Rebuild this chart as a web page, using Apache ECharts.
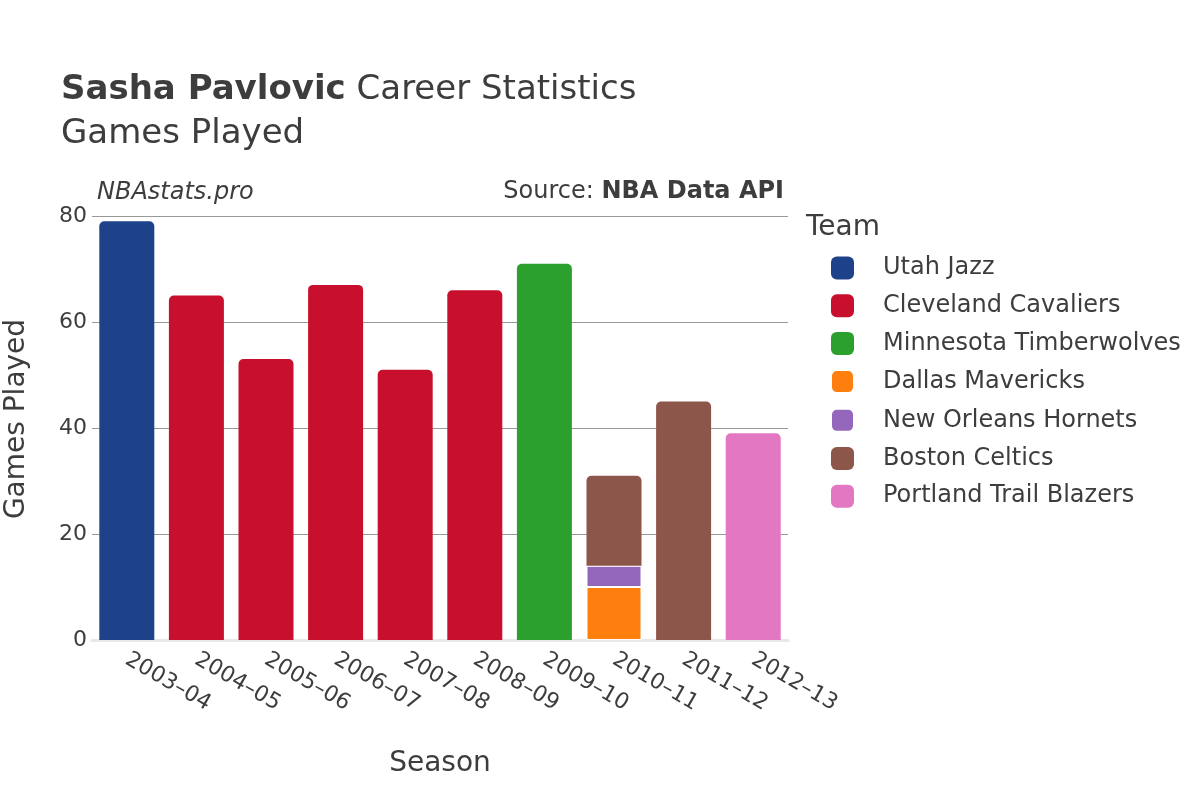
<!DOCTYPE html>
<html><head><meta charset="utf-8">
<script src="https://cdn.jsdelivr.net/npm/echarts@6/dist/echarts.min.js"></script>
<style>html,body{margin:0;padding:0;background:#fff}#c{width:1200px;height:800px}</style>
</head><body><div id="c"></div>
<script>
const seasons = ['2003–04','2004–05','2005–06','2006–07','2007–08','2008–09','2009–10','2010–11','2011–12','2012–13'];
const teams = ['Utah Jazz','Cleveland Cavaliers','Minnesota Timberwolves','Dallas Mavericks','New Orleans Hornets','Boston Celtics','Portland Trail Blazers'];
const teamColors = ['#1d428a','#c8102e','#2ca02c','#ff7f0e','#9467bd','#8c564b','#e377c2'];
const utahJazz      = [79,null,null,null,null,null,null,null,null,null];
const cleveland     = [null,65,53,67,51,66,null,null,null,null];
const minnesota     = [null,null,null,null,null,null,71,null,null,null];
const dallas        = [null,null,null,null,null,null,null,10,null,null];
const newOrleans    = [null,null,null,null,null,null,null,4,null,null];
const boston        = [null,null,null,null,null,null,null,17,45,null];
const portland      = [null,null,null,null,null,null,null,null,null,39];
const yTicks = [0,20,40,60,80];

const seriesData = [utahJazz, cleveland, minnesota, dallas, newOrleans, boston, portland];
const topRounded = [true,true,true,false,false,true,true];
const FONT = 'DejaVu Sans';
const TXT = '#3d3d3d';

const chart = echarts.init(document.getElementById('c'), null, {renderer:'canvas'});
chart.setOption({
  animation:false,
  textStyle:{fontFamily:FONT,color:TXT},
  title:[
    {text:'{b|Sasha Pavlovic} Career Statistics', left:56, top:68,
     textStyle:{fontFamily:FONT,fontSize:34,color:TXT,fontWeight:'normal',
       rich:{b:{fontFamily:FONT,fontSize:34,fontWeight:'bold',color:TXT}}}},
    {text:'Games Played', left:56, top:112, textStyle:{fontFamily:FONT,fontSize:34,color:TXT,fontWeight:'normal'}}
  ],
  graphic:[
    {type:'text', left:97, top:181, style:{text:'NBAstats.pro', font:'italic 24px "DejaVu Sans"', fill:TXT}},
    {type:'text', right:416, top:180, style:{text:'{n|Source: }{b|NBA Data API}', rich:{n:{font:'24px "DejaVu Sans"',fill:TXT},b:{font:'bold 24px "DejaVu Sans"',fill:TXT}}}},
    {type:'text', left:806, top:214, style:{text:'Team', font:'28px "DejaVu Sans"', fill:TXT}},
    {type:'text', x:17, y:419, rotation:Math.PI/2, style:{text:'Games Played', font:'28px "DejaVu Sans"', fill:TXT, align:'center', verticalAlign:'middle'}}
  ],
  legend:{
    orient:'vertical', left:825, top:251, itemWidth:23, itemHeight:23, itemGap:13.7,
    icon:'roundRect', data:teams,
    textStyle:{fontFamily:FONT,fontSize:24,color:TXT,padding:[0,0,0,24]}
  },
  grid:{left:92, right:412, top:216, bottom:160, containLabel:false, outerBoundsMode:'none'},
  xAxis:{
    type:'category', data:seasons,
    name:'Season', nameLocation:'middle', nameGap:110,
    nameTextStyle:{fontFamily:FONT,fontSize:28,color:TXT},
    axisTick:{show:false},
    axisLine:{show:true, lineStyle:{color:'#e8e8e8', width:3}},
    axisLabel:{rotate:-30, fontFamily:FONT, fontSize:22, color:TXT, margin:18, interval:0}
  },
  yAxis:{
    type:'value', min:0, max:80, interval:20,
    axisLine:{show:false}, axisTick:{show:false},
    axisLabel:{fontFamily:FONT,fontSize:22,color:TXT,margin:5},
    splitLine:{lineStyle:{color:'#999',width:1}}
  },
  series: teams.map((t,i)=>({
    name:t, type:'bar', stack:'gp', barWidth:55, data:seriesData[i],
    itemStyle:{color:teamColors[i], borderRadius: topRounded[i]?[5,5,0,0]:0, borderColor:'#fff', borderWidth: (i===3||i===4)?1:0}
  }))
});
</script></body></html>
